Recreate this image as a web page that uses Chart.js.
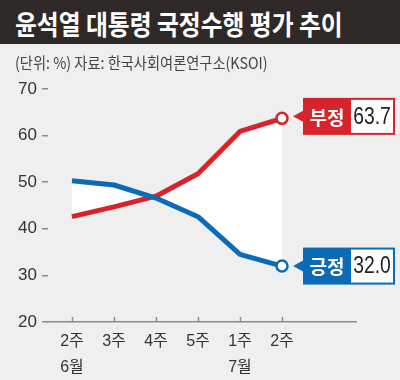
<!DOCTYPE html>
<html><head><meta charset="utf-8">
<script src="https://cdn.jsdelivr.net/npm/chart.js@4/dist/chart.umd.min.js"></script>
<style>
html,body{margin:0;padding:0;background:#efefef;}
#wrap{position:relative;width:400px;height:380px;overflow:hidden;background:#efefef;}
#bar{position:absolute;left:0;top:0;width:400px;height:44px;background:#2e2926;}
#title{position:absolute;left:15px;top:4px;color:#fff;font:bold 27px "Noto Sans CJK KR",sans-serif;white-space:nowrap;transform:scaleX(0.88);transform-origin:0 0;}
#sub{position:absolute;left:15px;top:50px;color:#444;font:16px "Noto Sans CJK KR",sans-serif;white-space:nowrap;transform:scaleX(0.89);transform-origin:0 0;}
canvas{position:absolute;left:0;top:0;}
</style></head>
<body><div id="wrap"><canvas id="c" width="400" height="380"></canvas><div id="bar"></div><div id="title">윤석열 대통령 국정수행 평가 추이</div><div id="sub">(단위: %) 자료: 한국사회여론연구소(KSOI)</div></div>
<script>
const weekLabels = [['2주','6월'], '3주', '4주', '5주', ['1주','7월'], '2주'];
const seriesNames = ['긍정', '부정'];
const positive = [50.3, 49.4, 46.6, 42.6, 34.5, 32.0];
const negative = [42.6, 44.7, 47.0, 51.8, 60.9, 63.7];
const yTicks = [20, 30, 40, 50, 60, 70];

const BLUE = '#0b6bb7', RED = '#d7232c';
const NUM_FONT = '"Liberation Sans","Noto Sans CJK KR",sans-serif';
const KO_FONT = '"Noto Sans CJK KR",sans-serif';

const lastIdx = positive.length - 1;
const ptR = c => c.dataIndex === lastIdx ? 5.5 : 0;

const calloutPlugin = {
  id: 'callout',
  afterDatasetsDraw(chart) {
    const ctx = chart.ctx;
    const xs = chart.scales.x;
    ctx.save();
    ctx.strokeStyle = '#8a8a8a'; ctx.lineWidth = 1.5;
    const yb = chart.chartArea.bottom;
    for (let i = 0; i < weekLabels.length; i++) {
      const px = Math.round(xs.getPixelForValue(i)) + 0.5;
      ctx.beginPath(); ctx.moveTo(px, yb - 5); ctx.lineTo(px, yb); ctx.stroke();
    }
    ctx.restore();
    chart.data.datasets.forEach((ds, di) => {
      const meta = chart.getDatasetMeta(di);
      const pt = meta.data[lastIdx];
      const x = pt.x, y = pt.y;
      const col = ds.borderColor;
      const h = 37, bx = x + 21, bw = 92, rw = 48;
      const cy = y - (di === 1 ? 2 : 0);
      const top = cy - h / 2;
      ctx.save();
      ctx.fillStyle = col;
      ctx.beginPath();
      ctx.moveTo(x + 11, cy);
      ctx.lineTo(bx + 1, cy - 6);
      ctx.lineTo(bx + 1, cy + 6);
      ctx.closePath(); ctx.fill();
      ctx.fillRect(bx, top, bw, h);
      ctx.fillStyle = '#fff';
      ctx.fillRect(bx + rw, top + 2, bw - rw - 2, h - 4);
      ctx.textBaseline = 'middle'; ctx.textAlign = 'center';
      ctx.font = 'bold 19px ' + KO_FONT;
      ctx.fillText(ds.label, bx + rw / 2, top + h / 2 + 1);
      ctx.fillStyle = '#222';
      ctx.font = '23px ' + NUM_FONT;
      const tx = bx + rw + (bw - rw - 2) / 2;
      ctx.translate(tx, top + h / 2 + 1);
      ctx.scale(0.84, 1);
      ctx.fillText(ds.data[lastIdx].y.toFixed(1), 0, 0);
      ctx.restore();
    });
  }
};

new Chart(document.getElementById('c'), {
  type: 'line',
  data: {
    datasets: [
      { label: seriesNames[0], data: positive.map((v, i) => ({x: i, y: v})), borderColor: BLUE, borderWidth: 5,
        pointRadius: ptR, pointBackgroundColor: '#fff', pointBorderColor: BLUE, pointBorderWidth: 2.5,
        fill: false, tension: 0, borderJoinStyle: 'round' },
      { label: seriesNames[1], data: negative.map((v, i) => ({x: i, y: v})), borderColor: RED, borderWidth: 5,
        pointRadius: ptR, pointBackgroundColor: '#fff', pointBorderColor: RED, pointBorderWidth: 2.5,
        fill: { target: 0, above: '#ffffff', below: '#ffffff' }, tension: 0, borderJoinStyle: 'round' }
    ]
  },
  options: {
    responsive: false, devicePixelRatio: 1, animation: false,
    layout: { padding: { left: 0, right: 44, top: 89, bottom: 0 } },
    plugins: { legend: { display: false }, tooltip: { enabled: false } },
    scales: {
      x: {
        type: 'linear', min: -0.571, max: 6.762,
        afterBuildTicks: s => { s.ticks = weekLabels.map((_, i) => ({ value: i })); },
        afterFit: s => { s.height = 58; },
        grid: { display: false, drawTicks: false },
        border: { display: true, color: '#8a8a8a', width: 1.5 },
        ticks: { autoSkip: false, maxRotation: 0, padding: 7, color: '#333',
          font: { family: NUM_FONT, size: 16, lineHeight: 1.6 },
          callback: v => weekLabels[v] }
      },
      y: {
        min: 20, max: 70,
        afterBuildTicks: s => { s.ticks = yTicks.map(v => ({ value: v })); },
        afterFit: s => { s.width = 48; },
        grid: { drawOnChartArea: false, drawTicks: true, tickLength: 6, color: '#8a8a8a', lineWidth: 1.5 },
        border: { display: false },
        ticks: { padding: 5, color: '#333', font: { family: NUM_FONT, size: 17 } }
      }
    }
  },
  plugins: [calloutPlugin]
});
</script></body></html>
